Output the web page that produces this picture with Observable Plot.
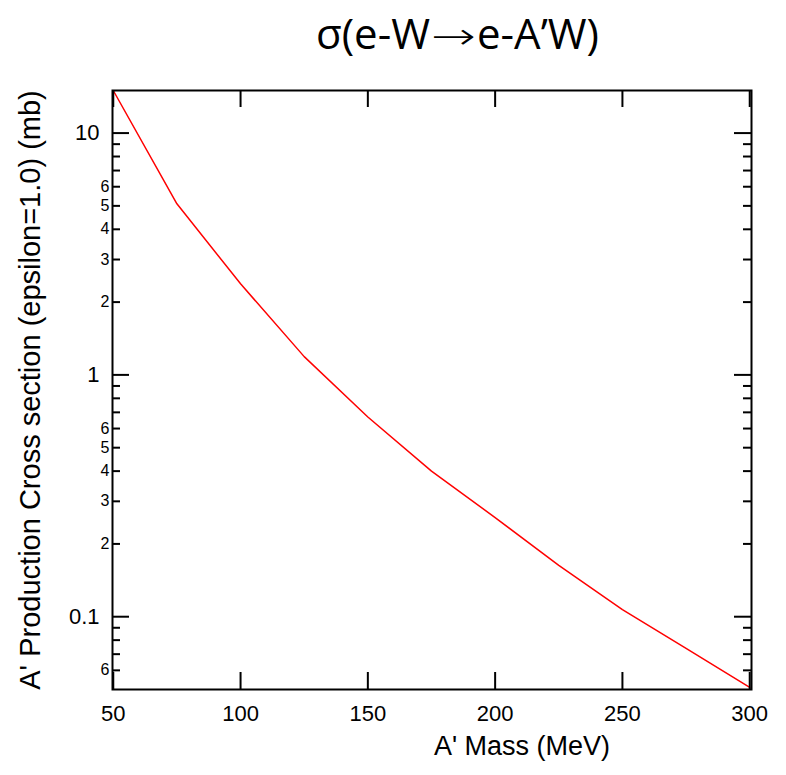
<!DOCTYPE html>
<html><head><meta charset="utf-8">
<script src="https://cdn.jsdelivr.net/npm/d3@7"></script>
<script src="https://cdn.jsdelivr.net/npm/@observablehq/plot@0.6"></script>
<style>
body{margin:0;background:#fff;}
#wrap{position:relative;width:786px;height:775px;}
#title{position:absolute;left:316px;top:4px;white-space:nowrap;font-family:"Open Sans",sans-serif;font-size:42px;color:#000;}
#title .arr{font-family:"DejaVu Sans",sans-serif;font-weight:200;font-size:37px;display:inline-block;transform:scaleX(1.45);margin:0 8px;}
</style></head><body>
<div id="wrap"><div id="title">σ(e-W<span class="arr">→</span>e-A’W)</div></div>
<script>
const mass = [50, 75, 100, 125, 150, 175, 200, 225, 250, 275, 300];
const sigma = [15.0, 5.1, 2.38, 1.19, 0.67, 0.40, 0.257, 0.163, 0.107, 0.074, 0.051];
const xTicks = [50, 100, 150, 200, 250, 300];
const yMajor = [0.1, 1, 10];
const yMinor = [0.06, 0.07, 0.08, 0.09, 0.2, 0.3, 0.4, 0.5, 0.6, 0.7, 0.8, 0.9, 2, 3, 4, 5, 6, 7, 8, 9];
const yMinorLabeled = [0.06, 0.2, 0.3, 0.4, 0.5, 0.6, 2, 3, 4, 5, 6];
const xLabel = "A' Mass (MeV)";
const yLabel = "A' Production Cross section (epsilon=1.0) (mb)";

const data = mass.map((m, i) => ({m, s: sigma[i]}));
const W = 786, H = 775, mL = 112, mR = 35, mT = 90, mB = 86;
const fw = W - mL - mR, fh = H - mT - mB;
const lead = d => String(Math.round(d / Math.pow(10, Math.floor(Math.log10(d) + 1e-9))));
const font = "Liberation Sans, Arial, sans-serif";

const chart = Plot.plot({
  width: W, height: H,
  marginLeft: mL, marginRight: mR, marginTop: mT, marginBottom: mB,
  style: {fontFamily: font, background: "white", color: "black"},
  x: {domain: [49.7, 300.7]},
  y: {type: "log", domain: [0.05, 15]},
  marks: [
    Plot.line(data, {x: "m", y: "s", stroke: "#ff0000", strokeWidth: 1.5, clip: true}),
    Plot.tickY(yMajor, {y: d => d, insetRight: fw - 17, stroke: "black", strokeWidth: 2}),
    Plot.tickY(yMajor, {y: d => d, insetLeft: fw - 17, stroke: "black", strokeWidth: 2}),
    Plot.tickY(yMinor, {y: d => d, insetRight: fw - 8, stroke: "black", strokeWidth: 2}),
    Plot.tickY(yMinor, {y: d => d, insetLeft: fw - 8, stroke: "black", strokeWidth: 2}),
    Plot.tickX(xTicks, {x: d => d, insetTop: fh - 17, stroke: "black", strokeWidth: 2}),
    Plot.tickX(xTicks, {x: d => d, insetBottom: fh - 17, stroke: "black", strokeWidth: 2}),
    Plot.frame({stroke: "black", strokeWidth: 2}),
    Plot.axisY(yMajor, {tickSize: 0, tickPadding: 13, fontSize: 22, tickFormat: d => String(d), label: null}),
    Plot.axisY(yMinorLabeled, {tickSize: 0, tickPadding: 3, fontSize: 16, tickFormat: lead, label: null}),
    Plot.axisX(xTicks, {tickSize: 0, tickPadding: 16, fontSize: 22, tickFormat: d => String(d), label: null}),
    Plot.text([xLabel], {text: d => d, frameAnchor: "bottom", dx: 90, dy: 57, lineAnchor: "middle", textAnchor: "middle", fontSize: 27}),
    Plot.text([yLabel], {text: d => d, frameAnchor: "left", rotate: -90, dx: -82, lineAnchor: "middle", textAnchor: "middle", fontSize: 29})
  ]
});
document.getElementById("wrap").appendChild(chart);
</script>
</body></html>
